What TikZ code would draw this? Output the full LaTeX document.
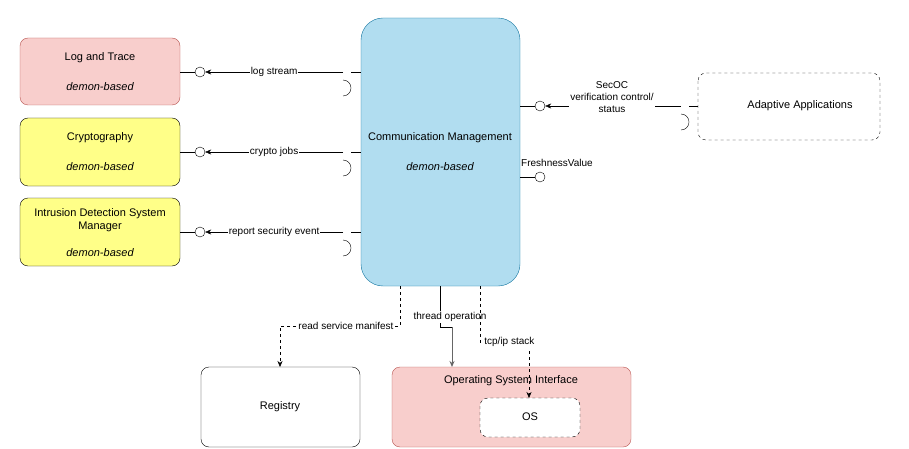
\documentclass[tikz,border=0pt]{standalone}
\usepackage{fontspec}
\setmainfont{Liberation Sans}
\usetikzlibrary{arrows.meta}
\definecolor{redfill}{HTML}{F8CECC}
\definecolor{reddraw}{HTML}{B85450}
\definecolor{yelfill}{HTML}{FFFF88}
\definecolor{bluefill}{HTML}{B1DDF0}
\definecolor{bluedraw}{HTML}{10739E}
\tikzset{
  comp/.style={draw, rounded corners=8pt, align=center, font=\fontsize{11}{13}\selectfont},
  lolli/.style={draw, circle, fill=white, minimum size=10pt, inner sep=0pt},
  lbl/.style={fill=white, inner sep=1pt, font=\fontsize{10}{12}\selectfont, align=center},
  tip/.style={-{Stealth[length=6pt,width=5pt]}}
}
\begin{document}
\begin{tikzpicture}[x=1pt,y=-1pt]
\useasboundingbox (0,0) rectangle (909,449);

% left components
\draw[comp, fill=redfill, draw=reddraw] (20,38) rectangle (180,105);
\node (log) at (100,58) {\fontsize{11}{13}\selectfont Log and Trace};
\node at (100,87) {\fontsize{11}{13}\selectfont\itshape demon-based};
\draw[comp, fill=yelfill] (20,118) rectangle (180,186);
\node (cry) at (100,138) {\fontsize{11}{13}\selectfont Cryptography};
\node at (100,167) {\fontsize{11}{13}\selectfont\itshape demon-based};
\draw[comp, fill=yelfill] (20,198) rectangle (180,266);
\node (ids) at (100,220) [align=center,font=\fontsize{11}{13}\selectfont] {Intrusion Detection System\\Manager};
\node at (100,253) {\fontsize{11}{13}\selectfont\itshape demon-based};

% communication management
\draw[comp, fill=bluefill, draw=bluedraw, rounded corners=22pt] (361,18) rectangle (520,286);
\node (cm) at (440,138) {\fontsize{11}{13}\selectfont Communication Management};
\node at (440,167) {\fontsize{11}{13}\selectfont\itshape demon-based};

% right and bottom components
\draw[comp, dashed] (698,73) rectangle (880,140);
\node (aa) at (800,106) {\fontsize{11}{13}\selectfont Adaptive Applications};
\draw[comp] (201,367) rectangle (360,447);
\node (reg) at (280,407) {\fontsize{11}{13}\selectfont Registry};
\draw[comp, fill=redfill, draw=reddraw] (392,367) rectangle (631,447);
\node (osi) at (511,381) {\fontsize{11}{13}\selectfont Operating System Interface};
\draw[comp, dashed, fill=white] (480,398) rectangle (580,437);
\node (os) at (530,417) {\fontsize{11}{13}\selectfont OS};

% interfaces
\foreach \y/\n/\t in {72/a/log stream, 152/b/crypto jobs, 232/c/report security event}{
  \node[lolli] (p\n) at (200,\y) {};
  \coordinate (s\n) at (343,\y);
  \draw (180,\y) -- (p\n);
  \draw[tip] (s\n) -- node[lbl] {\t} (p\n);
  \draw ([yshift=-8pt]s\n) arc (-90:90:8) ;
  \draw ([xshift=8pt]s\n) -- (361,\y);
}
\node[lolli] (pd) at (540,106) {};
\coordinate (sd) at (683,106);
\draw (520,106) -- (pd);
\draw[tip] (575,106) -- (pd);
\draw (650,106) -- ([xshift=-2pt]sd);
\node[lbl] at (612,97) {SecOC\\verification control/\\status};
\draw ([shift={(-2pt,-8pt)}]sd) arc (-90:90:8);
\draw ([xshift=6pt]sd) -- (698,106);
\node[lolli] (pe) at (540,177) {};
\draw (520,177) -- (pe);
\node[lbl, anchor=west, fill=none] at (520,163) {FreshnessValue};

% bottom connectors
\draw[dashed, tip] (400,286) -- (400,326) -- node[lbl, pos=0.45] {read service manifest} (280,326) -- (280,367);
\draw (440,286) -- (440,327) -- (452,327);
\draw[tip, draw=gray!80!black, line width=1pt] (452,327) -- (452,367);
\node[lbl] at (450,317) {thread operation};
\draw[dashed, tip] (480,286) -- (480,342) -- node[lbl, pos=0.6] {tcp/ip stack} (529,342) -- (529,398);
\end{tikzpicture}
\end{document}
